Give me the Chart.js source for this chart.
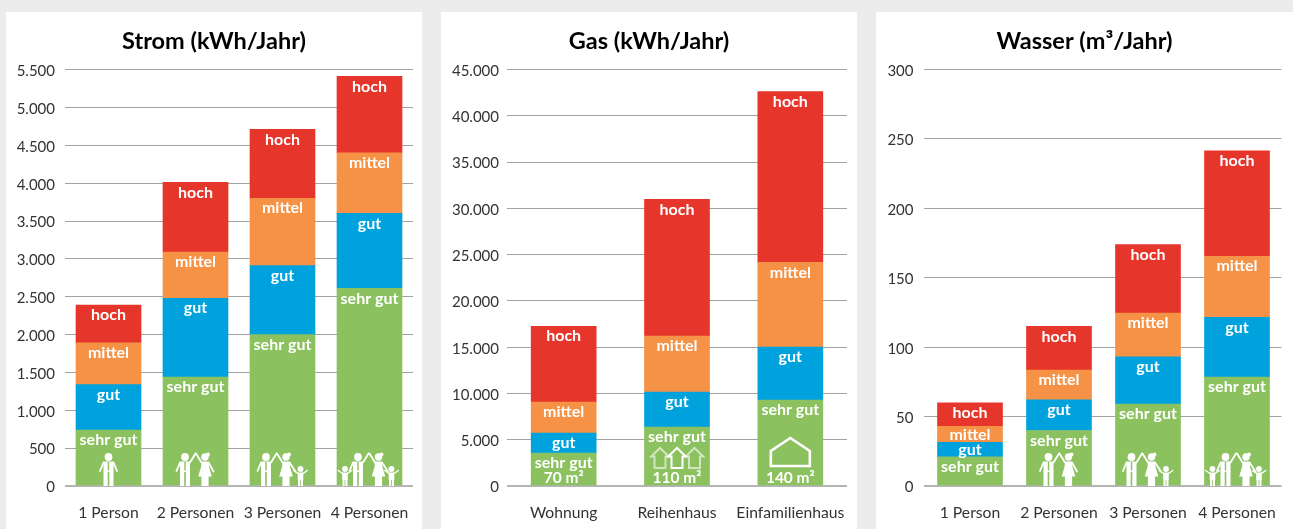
<!DOCTYPE html>
<html lang="de">
<head>
<meta charset="utf-8">
<title>Strom, Gas, Wasser</title>
<script src="https://cdn.jsdelivr.net/npm/chart.js@4"></script>
<style>
html,body{margin:0;padding:0;background:#ececec;width:1293px;height:529px;overflow:hidden}
.panel{position:absolute;top:12px;height:517px;background:#fff}
canvas{display:block}
</style>
</head>
<body>
<div class="panel" style="left:6px;width:416px"><canvas id="strom" width="416" height="517"></canvas></div>
<div class="panel" style="left:441px;width:416px"><canvas id="gas" width="416" height="517"></canvas></div>
<div class="panel" style="left:876px;width:417px"><canvas id="wasser" width="417" height="517"></canvas></div>
<script>
const seriesNames = ['sehr gut', 'gut', 'mittel', 'hoch'];
const seriesColors = ['#8bc15f', '#00a2de', '#f59246', '#e6352a'];

const personCategories = ['1 Person', '2 Personen', '3 Personen', '4 Personen'];
const stromSehrGut = [740, 1440, 2000, 2610];
const stromGut = [600, 1040, 910, 990];
const stromMittel = [550, 610, 890, 800];
const stromHoch = [500, 920, 910, 1010];
const stromTicks = [0, 500, 1000, 1500, 2000, 2500, 3000, 3500, 4000, 4500, 5000, 5500];

const gasCategories = ['Wohnung', 'Reihenhaus', 'Einfamilienhaus'];
const gasSehrGut = [3560, 6370, 9280];
const gasGut = [2160, 3780, 5720];
const gasMittel = [3340, 6040, 9170];
const gasHoch = [8200, 14780, 18460];
const gasTicks = [0, 5000, 10000, 15000, 20000, 25000, 30000, 35000, 40000, 45000];
const gasAreas = ['70 m²', '110 m²', '140 m²'];

const wasserSehrGut = [21, 40, 59, 78.5];
const wasserGut = [10.5, 22, 34, 43];
const wasserMittel = [11.5, 21.5, 31.5, 44];
const wasserHoch = [17, 31.5, 49.5, 76];
const wasserTicks = [0, 50, 100, 150, 200, 250, 300];

const FONT = 'Lato, "Open Sans", sans-serif';

function line(ctx, pts, w) {
  ctx.lineWidth = w; ctx.lineCap = 'round'; ctx.lineJoin = 'round';
  ctx.beginPath();
  pts.forEach((p, i) => i ? ctx.lineTo(p[0], p[1]) : ctx.moveTo(p[0], p[1]));
  ctx.stroke();
}
function poly(ctx, pts) {
  ctx.beginPath();
  pts.forEach((p, i) => i ? ctx.lineTo(p[0], p[1]) : ctx.moveTo(p[0], p[1]));
  ctx.closePath(); ctx.fill();
}
function head(ctx, x, y, r) { ctx.beginPath(); ctx.arc(x, y, r, 0, Math.PI * 2); ctx.fill(); }

function drawMan(ctx, x, b, arm) {
  head(ctx, x, b - 29, 3.9);
  ctx.fillRect(x - 5, b - 24.5, 10, 10.5);
  ctx.fillRect(x - 5, b - 14.5, 4.2, 14.5);
  ctx.fillRect(x + 0.8, b - 14.5, 4.2, 14.5);
  line(ctx, [[x - 5, b - 23.5], [x - 8.5, b - 15]], 1.8);
  if (arm === 'up') line(ctx, [[x + 5, b - 23.5], [x + 10.5, b - 32.5]], 1.8);
  else line(ctx, [[x + 5, b - 23.5], [x + 8.5, b - 15]], 1.8);
  ctx.save();
  ctx.strokeStyle = '#8bc15f';
  line(ctx, [[x, b - 23.5], [x, b - 16]], 1.4);
  ctx.restore();
}
function drawWoman(ctx, x, b, childSide) {
  head(ctx, x, b - 29, 3.7);
  head(ctx, x + 3, b - 31.5, 1.9);
  poly(ctx, [[x - 3.5, b - 24.5], [x + 3.5, b - 24.5], [x + 4, b - 19], [x + 6.8, b - 9.5], [x - 6.8, b - 9.5], [x - 4, b - 19]]);
  ctx.fillRect(x - 3.6, b - 10, 7.2, 10);
  line(ctx, [[x - 3.5, b - 23.5], [x - 9, b - 32.5]], 1.8);
  line(ctx, [[x + 3.5, b - 23.5], [x + (childSide ? 9.5 : 8.5), b - 14.5]], 1.8);
}
function drawChild(ctx, x, b) {
  head(ctx, x, b - 17, 2.9);
  ctx.fillRect(x - 2.8, b - 13.5, 5.6, 7.5);
  ctx.fillRect(x - 2.5, b - 6, 2.1, 6);
  ctx.fillRect(x + 0.4, b - 6, 2.1, 6);
  line(ctx, [[x - 2.5, b - 12.5], [x - 6.8, b - 15.5]], 1.4);
  line(ctx, [[x + 2.5, b - 12.5], [x + 6.8, b - 15.5]], 1.4);
}
function drawPeople(ctx, x, b, count) {
  if (count === 1) drawMan(ctx, x, b, 'down');
  if (count === 2) { drawMan(ctx, x - 10.5, b, 'up'); drawWoman(ctx, x + 9.5, b, false); }
  if (count === 3) { drawMan(ctx, x - 16.5, b, 'up'); drawWoman(ctx, x + 3.5, b, true); drawChild(ctx, x + 18, b); }
  if (count === 4) { drawChild(ctx, x - 24.5, b); drawMan(ctx, x - 11.5, b, 'up'); drawWoman(ctx, x + 9, b, true); drawChild(ctx, x + 22, b); }
}
function drawSmallHouse(ctx, x, b, alpha) {
  ctx.save();
  ctx.strokeStyle = 'rgba(255,255,255,' + alpha + ')';
  ctx.lineCap = 'butt'; ctx.lineJoin = 'miter'; ctx.lineWidth = 2;
  ctx.beginPath();
  ctx.moveTo(x - 5.5, b); ctx.lineTo(x - 5.5, b - 11.5); ctx.lineTo(x - 8.8, b - 11.5);
  ctx.lineTo(x, b - 20); ctx.lineTo(x + 8.8, b - 11.5); ctx.lineTo(x + 5.5, b - 11.5);
  ctx.lineTo(x + 5.5, b); ctx.closePath();
  ctx.stroke();
  ctx.restore();
}
function drawBigHouse(ctx, x, b) {
  ctx.lineJoin = 'miter'; ctx.lineWidth = 2.6;
  ctx.beginPath();
  ctx.moveTo(x, b - 28); ctx.lineTo(x + 19.5, b - 15); ctx.lineTo(x + 19.5, b);
  ctx.lineTo(x - 19.5, b); ctx.lineTo(x - 19.5, b - 15); ctx.closePath();
  ctx.stroke();
}

const barText = {
  id: 'barText',
  afterDatasetsDraw(chart, args, opts) {
    const ctx = chart.ctx;
    ctx.save();
    ctx.fillStyle = '#fff'; ctx.strokeStyle = '#fff';
    ctx.textAlign = 'center'; ctx.textBaseline = 'middle';
    ctx.font = '700 16px ' + FONT;
    chart.data.datasets.forEach((ds, d) => {
      chart.getDatasetMeta(d).data.forEach(el => {
        const top = el.y, h = el.base - el.y;
        ctx.fillText(ds.label, el.x, top + Math.min(10, h / 2 + 0.5));
      });
    });
    const zero = chart.scales.y.getPixelForValue(0);
    chart.getDatasetMeta(0).data.forEach((el, i) => {
      if (opts.people && opts.people[i]) drawPeople(ctx, el.x, zero, opts.people[i]);
      if (opts.areas) {
        ctx.fillStyle = '#fff';
        ctx.font = '700 15.5px ' + FONT;
        ctx.fillText(opts.areas[i], el.x, zero - 8);
        if (i === 1) {
          drawSmallHouse(ctx, el.x - 17, zero - 18, 0.6);
          drawSmallHouse(ctx, el.x + 17.5, zero - 18, 0.6);
          drawSmallHouse(ctx, el.x, zero - 18, 1);
        }
        if (i === 2) drawBigHouse(ctx, el.x, zero - 20);
      }
    });
    ctx.restore();
  }
};

function makeChart(id, title, categories, values, ticks, area, extra) {
  new Chart(document.getElementById(id), {
    type: 'bar',
    data: {
      labels: categories,
      datasets: values.map((v, i) => ({
        label: seriesNames[i], data: v, backgroundColor: seriesColors[i],
        borderWidth: 0, barThickness: 65
      }))
    },
    plugins: [barText],
    options: {
      responsive: false,
      animation: false,
      layout: { padding: { left: area.right, top: 0, right: area.right, bottom: 0 } },
      plugins: {
        legend: { display: false },
        tooltip: { enabled: false },
        title: {
          display: true, text: title, color: '#000',
          font: { family: FONT, size: 23.5, weight: '700', lineHeight: 1.2 },
          padding: { top: 15.5, bottom: 13.9 }
        },
        barText: extra
      },
      scales: {
        x: {
          stacked: true,
          grid: { display: false },
          border: { display: false },
          ticks: {
            color: '#333', font: { family: FONT, size: 15.7 }, padding: 10,
            autoSkip: false, minRotation: 0, maxRotation: 0
          },
          afterFit(s) { s.height = 43; s.paddingLeft = 0; s.paddingRight = 0; }
        },
        y: {
          stacked: true,
          min: 0, max: ticks[ticks.length - 1],
          afterBuildTicks(s) { s.ticks = ticks.map(v => ({ value: v })); },
          border: { display: false },
          grid: {
            drawTicks: area.tick > 0, tickLength: area.tick,
            color: c => c.tick && c.tick.value === 0 ? '#b4b4b4' : '#a3a3a3',
            lineWidth: c => c.tick && c.tick.value === 0 ? 2 : 1
          },
          ticks: {
            color: '#333', font: { family: FONT, size: 15 }, padding: area.gap, labelOffset: 1.5,
            callback: v => Number(v).toLocaleString('de-DE')
          },
          afterFit(s) { s.width = area.left - area.right; s.paddingTop = 0; s.paddingBottom = 0; }
        }
      }
    }
  });
}

makeChart('strom', 'Strom (kWh/Jahr)', personCategories,
  [stromSehrGut, stromGut, stromMittel, stromHoch], stromTicks,
  { left: 59, right: 9, tick: 0, gap: 10 }, { people: [1, 2, 3, 4] });
makeChart('gas', 'Gas (kWh/Jahr)', gasCategories,
  [gasSehrGut, gasGut, gasMittel, gasHoch], gasTicks,
  { left: 66, right: 10, tick: 0, gap: 8 }, { areas: gasAreas });
makeChart('wasser', 'Wasser (m³/Jahr)', personCategories,
  [wasserSehrGut, wasserGut, wasserMittel, wasserHoch], wasserTicks,
  { left: 49.5, right: 11.5, tick: 1.5, gap: 10.5 }, { people: [0, 2, 3, 4] });
</script>
</body>
</html>
